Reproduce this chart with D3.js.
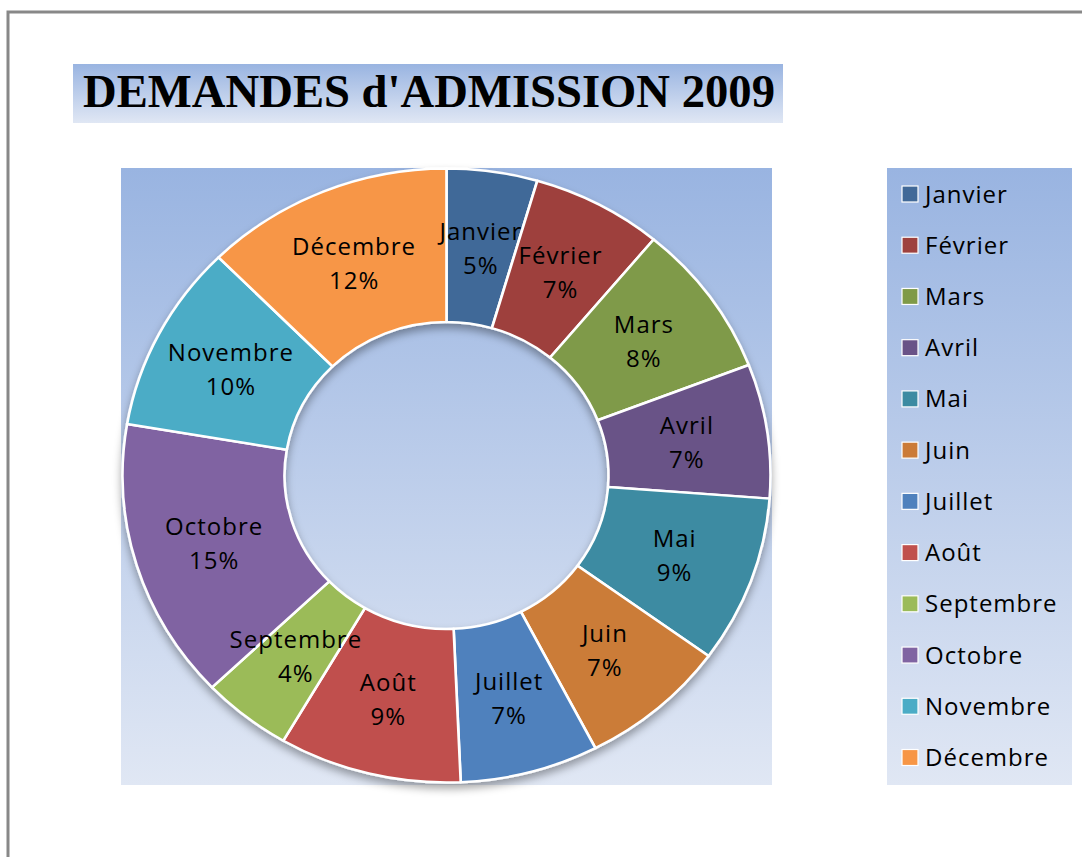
<!DOCTYPE html>
<html><head><meta charset="utf-8">
<script src="https://cdn.jsdelivr.net/npm/d3@7"></script>
<style>html,body{margin:0;padding:0;background:#fff;}svg{display:block;}</style>
</head><body>
<script>
const title = "DEMANDES d'ADMISSION 2009";
const months = ["Janvier","Février","Mars","Avril","Mai","Juin","Juillet","Août","Septembre","Octobre","Novembre","Décembre"];
const values = [4.52, 6.52, 8.1, 7.06, 8.8, 7.4, 6.9, 9.1, 4.48, 14.8, 9.9, 12.42];
const colors = ["#416998","#9E413E","#7F9A48","#695287","#3C8BA2","#CB7B38","#4F81BD","#C0504D","#9BBB59","#8064A2","#4BACC6","#F79646"];

const W = 1082, H = 857;
const svg = d3.select("body").append("svg").attr("width", W).attr("height", H);
const defs = svg.append("defs");
function grad(id, c1, c2){
  const g = defs.append("linearGradient").attr("id", id).attr("x1",0).attr("y1",0).attr("x2",0).attr("y2",1);
  g.append("stop").attr("offset","0%").attr("stop-color",c1);
  g.append("stop").attr("offset","100%").attr("stop-color",c2);
}
grad("bgGrad", "#99B4E1", "#E0E7F4");
const f = defs.append("filter").attr("id","shadow").attr("x","-10%").attr("y","-10%").attr("width","120%").attr("height","125%");
f.append("feDropShadow").attr("dx",0).attr("dy",5).attr("stdDeviation",4).attr("flood-color","#000").attr("flood-opacity",0.35);

// outer border
svg.append("rect").attr("x",8).attr("y",12).attr("width",1200).attr("height",1000)
  .attr("fill","none").attr("stroke","#888").attr("stroke-width",3);

// title box
svg.append("rect").attr("x",73).attr("y",64).attr("width",710).attr("height",59).attr("fill","url(#bgGrad)");
svg.append("text").attr("x",83).attr("y",107).text(title)
  .attr("font-family","'Liberation Serif','Times New Roman',serif").attr("font-weight","bold")
  .attr("font-size",47).attr("textLength",692).attr("lengthAdjust","spacingAndGlyphs").attr("fill","#000");

// plot area
svg.append("rect").attr("x",121).attr("y",168).attr("width",651).attr("height",617).attr("fill","url(#bgGrad)");

// donut (slightly elliptical as in the reference)
const cx = 446.5, cy = 475.5, R = 307, sx = 324/307;
const pie = d3.pie().sort(null).value(d => d)(values);
const arc = d3.arc().innerRadius(R*0.5).outerRadius(R);
const labelArc = d3.arc().innerRadius(R*0.75).outerRadius(R*0.75);
const total = d3.sum(values);

const g = svg.append("g").attr("transform", `translate(${cx},${cy}) scale(${sx},1)`);
g.append("g").attr("filter","url(#shadow)")
  .selectAll("path").data(pie).join("path")
  .attr("d", arc).attr("fill", (d,i) => colors[i])
  .attr("stroke","#fff").attr("stroke-width",2.5).attr("stroke-linejoin","round");

const lg = svg.append("g").attr("transform", `translate(${cx},${cy})`);
const labels = lg.selectAll("g.lab").data(pie).join("g").attr("class","lab")
  .attr("transform", d => { const c = labelArc.centroid(d); return `translate(${c[0]*sx},${c[1]})`; });
labels.append("text").attr("y",-8).text((d,i) => months[i]);
labels.append("text").attr("y",26).text(d => Math.round(d.value/total*100) + "%");
labels.selectAll("text").attr("text-anchor","middle")
  .attr("font-family","'Open Sans','Noto Sans',sans-serif").attr("font-size",24)
  .attr("letter-spacing",1).attr("fill","#000");

// legend
svg.append("rect").attr("x",887).attr("y",168).attr("width",185).attr("height",617).attr("fill","url(#bgGrad)");
const ly = d3.scalePoint().domain(months).range([194.5, 758]);
const items = svg.append("g").selectAll("g").data(months).join("g")
  .attr("transform", d => `translate(902,${ly(d)})`);
items.append("rect").attr("x",0).attr("y",-8.5).attr("width",16).attr("height",16)
  .attr("fill", (d,i) => colors[i]).attr("stroke","#fff").attr("stroke-width",1.2);
items.append("text").attr("x",23).attr("y",8).text(d => d)
  .attr("font-family","'Open Sans','Noto Sans',sans-serif").attr("font-size",24)
  .attr("letter-spacing",1).attr("fill","#000");
</script>
</body></html>
